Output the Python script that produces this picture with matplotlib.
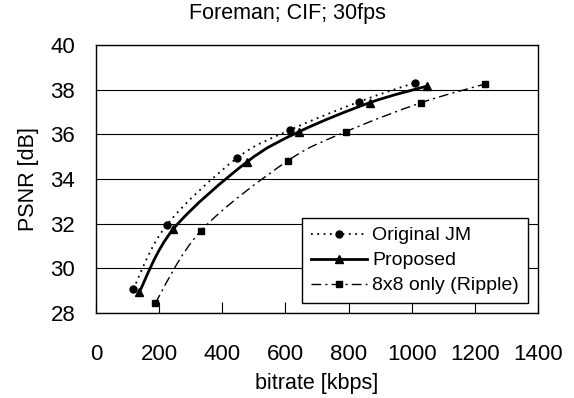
import numpy as np
import matplotlib
matplotlib.use('Agg')
import matplotlib.pyplot as plt
from matplotlib.path import Path
from matplotlib.patches import PathPatch
from matplotlib.lines import Line2D

plt.rcParams['font.family'] = ['Liberation Sans', 'DejaVu Sans']

# dados
jm_rate = [118, 224, 446, 614, 834, 1010]
jm_psnr = [29.07, 31.94, 34.93, 36.19, 37.46, 38.31]

prop_rate = [137, 245, 477, 644, 868, 1049]
prop_psnr = [28.93, 31.76, 34.75, 36.12, 37.42, 38.16]

ripple_rate = [187, 333, 607, 792, 1031, 1232]
ripple_psnr = [28.43, 31.69, 34.81, 36.12, 37.42, 38.25]

series = [
    ('Original JM', jm_rate, jm_psnr, 'o', (0, (1, 2.5)), 1.3, 5),
    ('Proposed', prop_rate, prop_psnr, '^', '-', 2.0, 6),
    ('8x8 only (Ripple)', ripple_rate, ripple_psnr, 's', (0, (7, 3, 1.5, 3)), 1.0, 5),
]


def smooth_path(x, y):
    # curva suave estilo Excel (Catmull-Rom -> Bezier)
    p = np.column_stack([x, y]).astype(float)
    ext = np.vstack([p[0], p, p[-1]])
    verts = [p[0]]
    codes = [Path.MOVETO]
    for i in range(1, len(ext) - 2):
        p0, p1, p2, p3 = ext[i - 1], ext[i], ext[i + 1], ext[i + 2]
        verts += [p1 + (p2 - p0) / 6, p2 - (p3 - p1) / 6, p2]
        codes += [Path.CURVE4] * 3
    return Path(verts, codes)


fig = plt.figure(figsize=(5.74, 3.98), dpi=100)
ax = fig.add_axes([0.1672, 0.2136, 0.770, 0.6734])

handles = []
for name, xs, ys, mk, ls, lw, ms in series:
    patch = PathPatch(smooth_path(xs, ys), facecolor='none', edgecolor='black',
                      linestyle=ls, linewidth=lw, transform=ax.transData, zorder=3)
    ax.add_patch(patch)
    ax.plot(xs, ys, linestyle='none', marker=mk, color='black', markersize=ms, zorder=4)
    handles.append(Line2D([], [], color='black', linestyle=ls, linewidth=lw,
                          marker=mk, markersize=ms, label=name))

ax.set_xlim(0, 1400)
ax.set_ylim(28, 40)
ax.set_xticks(np.arange(0, 1401, 200))
ax.set_yticks(np.arange(28, 41, 2))
ax.yaxis.grid(True, color='black', linewidth=0.8)
ax.set_axisbelow(True)
ax.tick_params(axis='x', direction='in', length=8, width=0.8, labelsize=16, pad=22)
ax.tick_params(axis='y', length=0, labelsize=16, pad=15)
for s in ax.spines.values():
    s.set_linewidth(1.0)

ax.set_xlabel('bitrate [kbps]', fontsize=15.5, labelpad=6)
ax.set_ylabel('PSNR [dB]', fontsize=15.5, labelpad=8)
fig.text(0.5, 0.993, 'Foreman; CIF; 30fps', ha='center', va='top', fontsize=15.5)

leg = ax.legend(handles=handles, loc='lower right', bbox_to_anchor=(0.977, 0.037),
                borderaxespad=0, fancybox=False, edgecolor='black', framealpha=1,
                fontsize=14, handlelength=2.9, handletextpad=0.25, labelspacing=0.38,
                borderpad=0.45)
leg.get_frame().set_linewidth(1.0)

fig.savefig('out.png', dpi=100)
